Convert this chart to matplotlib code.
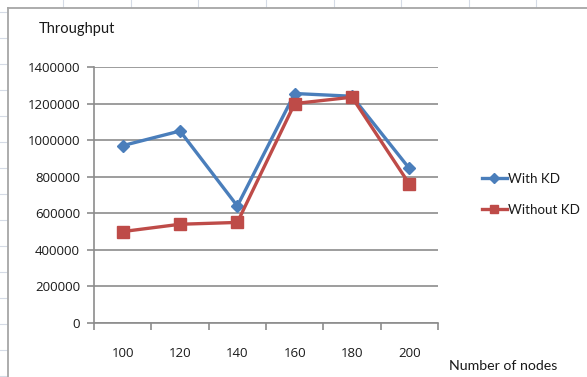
import matplotlib
matplotlib.use("Agg")
import matplotlib.pyplot as plt
from matplotlib.lines import Line2D

plt.rcParams['font.family'] = ['Lato', 'DejaVu Sans']

nodes = ["100", "120", "140", "160", "180", "200"]
with_kd = [970000, 1050000, 640000, 1255000, 1240000, 845000]
without_kd = [500000, 540000, 550000, 1200000, 1235000, 760000]
y_ticks = [0, 200000, 400000, 600000, 800000, 1000000, 1200000, 1400000]

W, H = 587, 377
fig = plt.figure(figsize=(W / 100, H / 100), dpi=100)
fig.patch.set_facecolor("white")

# worksheet cell lines around the chart object
for x in [63, 131, 198, 266, 334, 401, 469, 536]:
    fig.add_artist(Line2D([x / W, x / W], [1, 1 - 7 / H], color="#d5dbe6", lw=0.8))
for y in [12, 38, 64, 90, 116, 142, 168, 194, 220, 246, 272, 298, 324, 350, 376]:
    fig.add_artist(Line2D([0, 7 / W], [1 - y / H, 1 - y / H], color="#d5dbe6", lw=0.8))
# chart frame
fig.add_artist(Line2D([8 / W, 1], [1 - 8 / H, 1 - 8 / H], color="#a6a6a6", lw=1.3))
fig.add_artist(Line2D([8 / W, 8 / W], [0, 1 - 8 / H], color="#a6a6a6", lw=1.3))

ax = fig.add_axes([94 / W, (H - 323) / H, (438 - 94) / W, (323 - 67) / H])
xs = list(range(len(nodes)))
blue = "#4a7ebb"
red = "#be4b48"
ax.plot(xs, with_kd, color=blue, lw=2.4, marker="D", ms=6.5, label="With KD", zorder=3)
ax.plot(xs, without_kd, color=red, lw=2.4, marker="s", ms=8, label="Without KD", zorder=3)

ax.set_xlim(-0.5, len(nodes) - 0.5)
ax.set_ylim(0, 1400000)
ax.set_yticks(y_ticks)
ax.set_yticklabels([str(v) for v in y_ticks])
ax.yaxis.grid(True, color="#8c8c8c", lw=1.2)
ax.set_axisbelow(True)

# category labels centred, tick marks on the category boundaries
ax.set_xticks(xs)
ax.set_xticklabels(nodes)
ax.set_xticks([i - 0.5 for i in range(len(nodes) + 1)], minor=True)
ax.tick_params(axis="x", which="major", length=0, pad=17, labelsize=9.5, labelcolor="#1a1a1a")
ax.tick_params(axis="x", which="minor", length=5, width=1.2, color="#8c8c8c", direction="out")
ax.tick_params(axis="y", length=5, width=1.2, color="#8c8c8c", pad=5, labelsize=9.5, labelcolor="#1a1a1a")
for lab in ax.get_xticklabels() + ax.get_yticklabels():
    lab.set_family(['Open Sans', 'DejaVu Sans'])

for side in ["top", "right"]:
    ax.spines[side].set_visible(False)
for side in ["left", "bottom"]:
    ax.spines[side].set_color("#8c8c8c")
    ax.spines[side].set_linewidth(1.2)

fig.text(39 / W, 1 - 29 / H, "Throughput", fontsize=10.5, color="#1a1a1a", va="center", ha="left")
fig.text(449 / W, 1 - 366 / H, "Number of nodes", fontsize=10.2, color="#1a1a1a", va="center", ha="left")

leg = fig.legend(loc="upper left", bbox_to_anchor=(475 / W, 1 - 166 / H), frameon=False,
                 fontsize=9.6, handlelength=1.9, handletextpad=0.1, labelspacing=1.45,
                 borderpad=0, labelcolor="#1a1a1a", markerscale=0.8)

fig.savefig("out.png", dpi=100, facecolor="white")
